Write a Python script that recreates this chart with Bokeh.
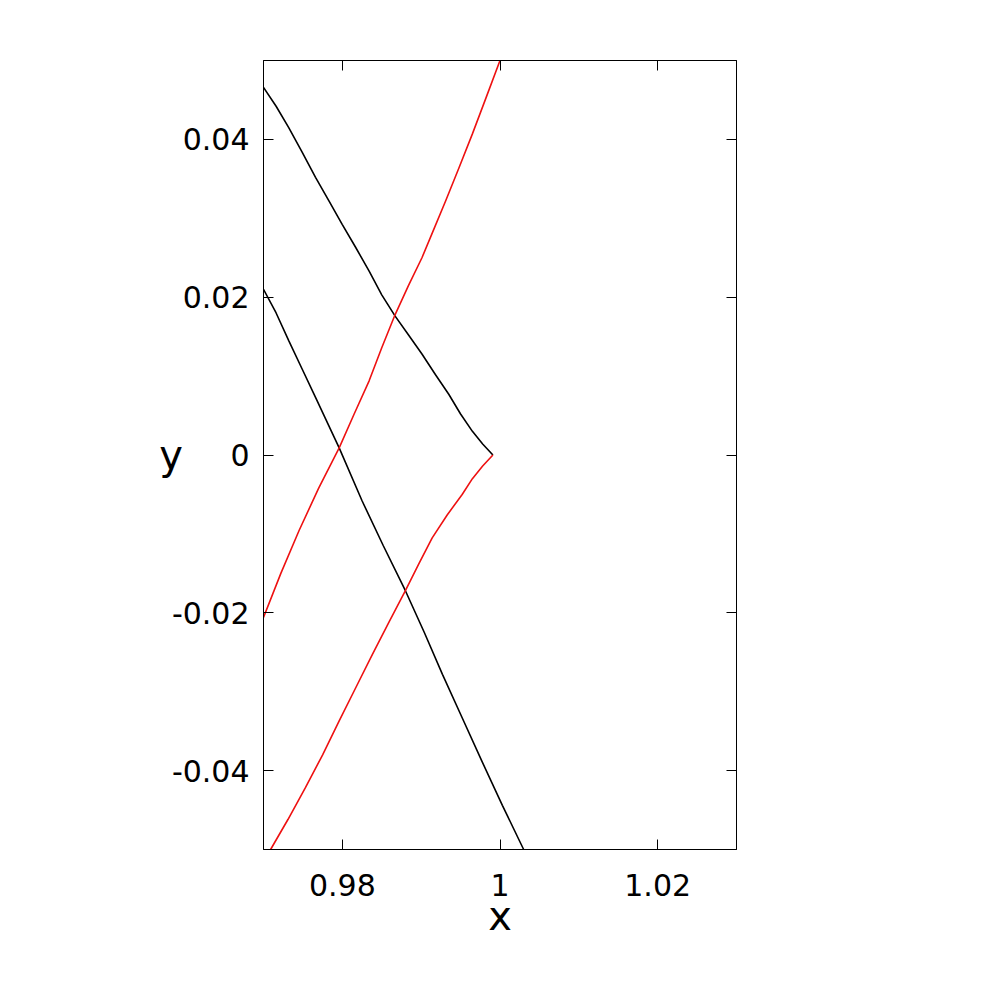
from bokeh.plotting import figure
from bokeh.models import Range1d, FixedTicker, LinearAxis
from bokeh.embed import file_html
from bokeh.resources import INLINE

# ---- data ----
black1_x = [0.9700, 0.9716, 0.9732, 0.9749, 0.9766, 0.9783, 0.9800, 0.9817, 0.9834, 0.9850, 0.9867, 0.9884, 0.9901, 0.9918, 0.9935, 0.9950, 0.9965, 0.9978, 0.9991]
black1_y = [0.0466, 0.0442, 0.0415, 0.0384, 0.0352, 0.0322, 0.0292, 0.0263, 0.0233, 0.0203, 0.0176, 0.0152, 0.0128, 0.0102, 0.0077, 0.0052, 0.0030, 0.0014, 0.0000]

red1_x = [0.9991, 0.9978, 0.9965, 0.9952, 0.9933, 0.9914, 0.9897, 0.9880, 0.9859, 0.9838, 0.9817, 0.9796, 0.9775, 0.9753, 0.9731, 0.9709]
red1_y = [0.0000, -0.0014, -0.0030, -0.0050, -0.0076, -0.0105, -0.0138, -0.0172, -0.0212, -0.0253, -0.0295, -0.0337, -0.0380, -0.0422, -0.0462, -0.0500]

red2_x = [0.9700, 0.9722, 0.9745, 0.9770, 0.9796, 0.9815, 0.9834, 0.9850, 0.9867, 0.9884, 0.9901, 0.9916, 0.9931, 0.9948, 0.9965, 0.9982, 1.0000]
red2_y = [-0.0206, -0.0150, -0.0096, -0.0042, 0.0009, 0.0052, 0.0094, 0.0136, 0.0178, 0.0215, 0.0250, 0.0286, 0.0322, 0.0364, 0.0407, 0.0452, 0.0500]

black2_x = [0.9700, 0.9716, 0.9732, 0.9749, 0.9766, 0.9796, 0.9825, 0.9852, 0.9880, 0.9904, 0.9927, 0.9952, 0.9977, 1.0003, 1.0030]
black2_y = [0.0210, 0.0180, 0.0145, 0.0109, 0.0073, 0.0009, -0.0058, -0.0115, -0.0172, -0.0225, -0.0278, -0.0333, -0.0388, -0.0444, -0.0500]

x_ticks = [0.98, 1.0, 1.02]
x_tick_labels = ["0.98", "1", "1.02"]
y_ticks = [-0.04, -0.02, 0.0, 0.02, 0.04]
y_tick_labels = ["-0.04", "-0.02", "0", "0.02", "0.04"]
x_title = "x"
y_title = "y"

FONT = "DejaVu Sans"
W, H = 992, 992

p = figure(width=W, height=H, output_backend="svg", toolbar_location=None,
           x_range=Range1d(0.97, 1.03), y_range=Range1d(-0.05, 0.05),
           x_axis_type=None, y_axis_type=None,
           min_border_left=263, min_border_right=256, min_border_top=60, min_border_bottom=143)
p.grid.visible = False
p.outline_line_color = "black"
p.outline_line_width = 1
p.background_fill_color = "white"
p.border_fill_color = "white"

def make_axis(ticks, labels, show_labels):
    ax = LinearAxis(ticker=FixedTicker(ticks=ticks))
    ax.major_label_overrides = {t: l for t, l in zip(ticks, labels)}
    ax.major_tick_in = 10
    ax.major_tick_out = 0
    ax.minor_tick_line_color = None
    ax.axis_line_color = "black"
    ax.major_tick_line_color = "black"
    ax.major_label_text_font = FONT
    ax.major_label_text_color = "black"
    if show_labels:
        ax.major_label_text_font_size = "30px"
    else:
        ax.major_label_text_font_size = "0px"
        ax.major_label_text_alpha = 0
    return ax

bottom = make_axis(x_ticks, x_tick_labels, True)
bottom.major_label_standoff = 24
bottom.axis_label = x_title
bottom.axis_label_text_font = FONT
bottom.axis_label_text_font_size = "40px"
bottom.axis_label_text_font_style = "normal"
bottom.axis_label_text_color = "black"
bottom.axis_label_standoff = -6

left = make_axis(y_ticks, y_tick_labels, True)
left.major_label_standoff = 14
left.axis_label = y_title
left.axis_label_orientation = "horizontal"
left.axis_label_text_font = FONT
left.axis_label_text_font_size = "40px"
left.axis_label_text_font_style = "normal"
left.axis_label_text_color = "black"
left.axis_label_standoff = -14

top = make_axis(x_ticks, x_tick_labels, False)
right = make_axis(y_ticks, y_tick_labels, False)
p.add_layout(bottom, "below")
p.add_layout(left, "left")
p.add_layout(top, "above")
p.add_layout(right, "right")

LW = 1.6
p.line(black1_x, black1_y, line_color="black", line_width=LW)
p.line(black2_x, black2_y, line_color="black", line_width=LW)
p.line(red1_x, red1_y, line_color="#ee1111", line_width=LW)
p.line(red2_x, red2_y, line_color="#ee1111", line_width=LW)

open("out.html", "w").write(file_html(p, INLINE))
